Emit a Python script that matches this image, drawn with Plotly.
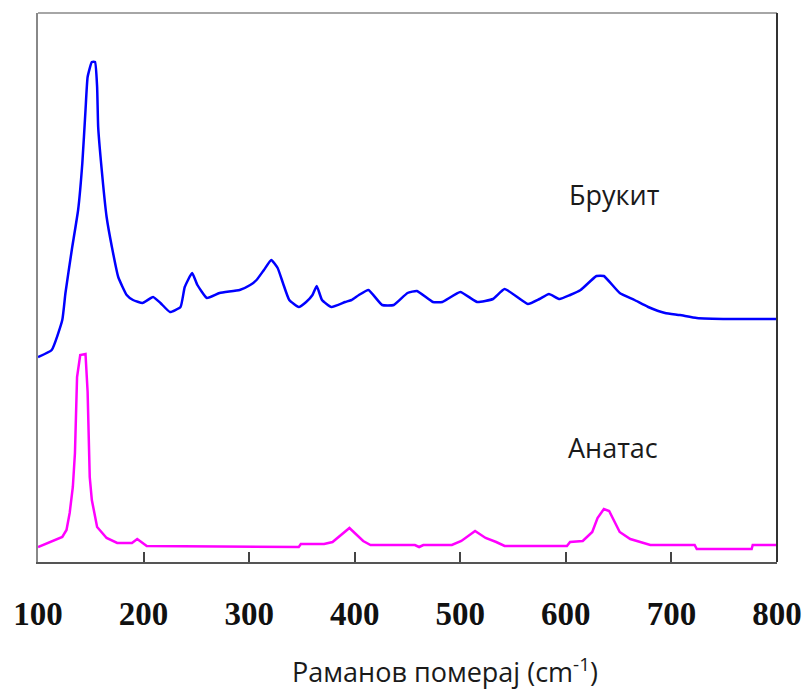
import plotly.graph_objects as go

# Brookite (Брукит) spectrum: Raman shift (cm^-1) and relative intensity (a.u.)
brookite_x = [100, 113, 123, 126, 132, 138, 142, 145, 147, 151, 154, 156, 157, 161, 165, 170, 176,
              184, 190, 199, 209, 216, 225, 235, 239, 246, 251, 260, 272, 291, 301, 307, 314, 321,
              327, 332, 338, 347, 354, 360, 364, 369, 378, 391, 397, 404, 413, 426, 437, 450, 459,
              474, 483, 500, 516, 531, 542, 564, 575, 584, 594, 604, 614, 629, 636, 651, 665, 678,
              694, 708, 724, 755, 800]
brookite_y = [205, 212, 242, 269, 312, 352, 399, 452, 485, 500, 500, 475, 435, 385, 345, 315, 285,
              267, 262, 259, 265, 259, 250, 255, 275, 289, 277, 264, 269, 272, 277, 282, 292, 302,
              294, 279, 262, 255, 260, 267, 276, 262, 255, 260, 262, 267, 272, 257, 257, 269, 271,
              260, 260, 270, 260, 263, 273, 258, 263, 268, 263, 267, 272, 286, 286, 269, 262, 255,
              249, 247, 244, 243, 243]

# Anatase (Анатас) spectrum
anatase_x = [100, 111, 123, 127, 130, 133, 135, 137, 140, 145, 147, 149, 151, 156, 165, 175, 189,
             194, 203, 347, 349, 371, 379, 395, 408, 415, 457, 461, 465, 492, 501, 514, 524, 534,
             542, 601, 604, 616, 625, 630, 636, 641, 646, 651, 661, 674, 680, 722, 724, 776, 777, 800]
anatase_y = [15, 20, 25, 32, 49, 75, 109, 185, 207, 208, 170, 85, 62, 35, 24, 19, 19,
             23, 16, 15, 18, 18, 20, 34, 21, 17, 17, 15, 17, 17, 21, 31, 24, 20,
             16, 16, 20, 21, 30, 44, 53, 51, 41, 30, 23, 19, 17, 17, 13, 13, 17, 17]

tick_vals = [100, 200, 300, 400, 500, 600, 700, 800]
tick_text = ["100", "200", "300", "400", "500", "600", "700", "800"]

series_labels = ["Брукит", "Анатас"]
label_x = [646, 645]
label_y = [368, 115]

fig = go.Figure()
fig.add_trace(go.Scatter(x=brookite_x, y=brookite_y, mode="lines",
                         line=dict(color="#0000FF", width=2.5, shape="spline", smoothing=0.4),
                         name=series_labels[0], showlegend=False))
fig.add_trace(go.Scatter(x=anatase_x, y=anatase_y, mode="lines",
                         line=dict(color="#FF00FF", width=2.5),
                         name=series_labels[1], showlegend=False))

for t, lx, ly in zip(series_labels, label_x, label_y):
    fig.add_annotation(x=lx, y=ly, xref="x", yref="y", text=t, showarrow=False,
                       font=dict(family="Open Sans", size=27, color="#1a1a1a"),
                       xanchor="center", yanchor="middle")

fig.add_annotation(x=0.551, y=-0.237, xref="paper", yref="paper",
                   text="Раманов померај (cm<sup>-1</sup>)", showarrow=False,
                   font=dict(family="Open Sans", size=27, color="#1a1a1a"),
                   xanchor="center", yanchor="bottom")

# top and right frame lines
fig.add_shape(type="line", xref="paper", yref="paper", x0=0, x1=1, y0=1, y1=1,
              line=dict(color="#888888", width=1.5))
fig.add_shape(type="line", xref="paper", yref="paper", x0=1, x1=1, y0=0, y1=1,
              line=dict(color="#333333", width=2))

fig.update_layout(
    width=803, height=691,
    margin=dict(l=38, r=26, t=13, b=129, autoexpand=False),
    paper_bgcolor="white", plot_bgcolor="white",
    xaxis=dict(range=[100, 800], tickvals=tick_vals, ticktext=tick_text,
               ticks="inside", ticklen=10, tickwidth=1.5, tickcolor="#444444",
               showline=True, linecolor="#555555", linewidth=1.5, automargin=False,
               showgrid=False, zeroline=False, ticklabelstandoff=22,
               tickfont=dict(family="Liberation Serif", size=33, color="#111111", weight="bold")),
    yaxis=dict(range=[0, 549], showticklabels=False, ticks="", automargin=False,
               showline=True, linecolor="#888888", linewidth=1.5,
               showgrid=False, zeroline=False),
)

fig.write_html("out.html")
